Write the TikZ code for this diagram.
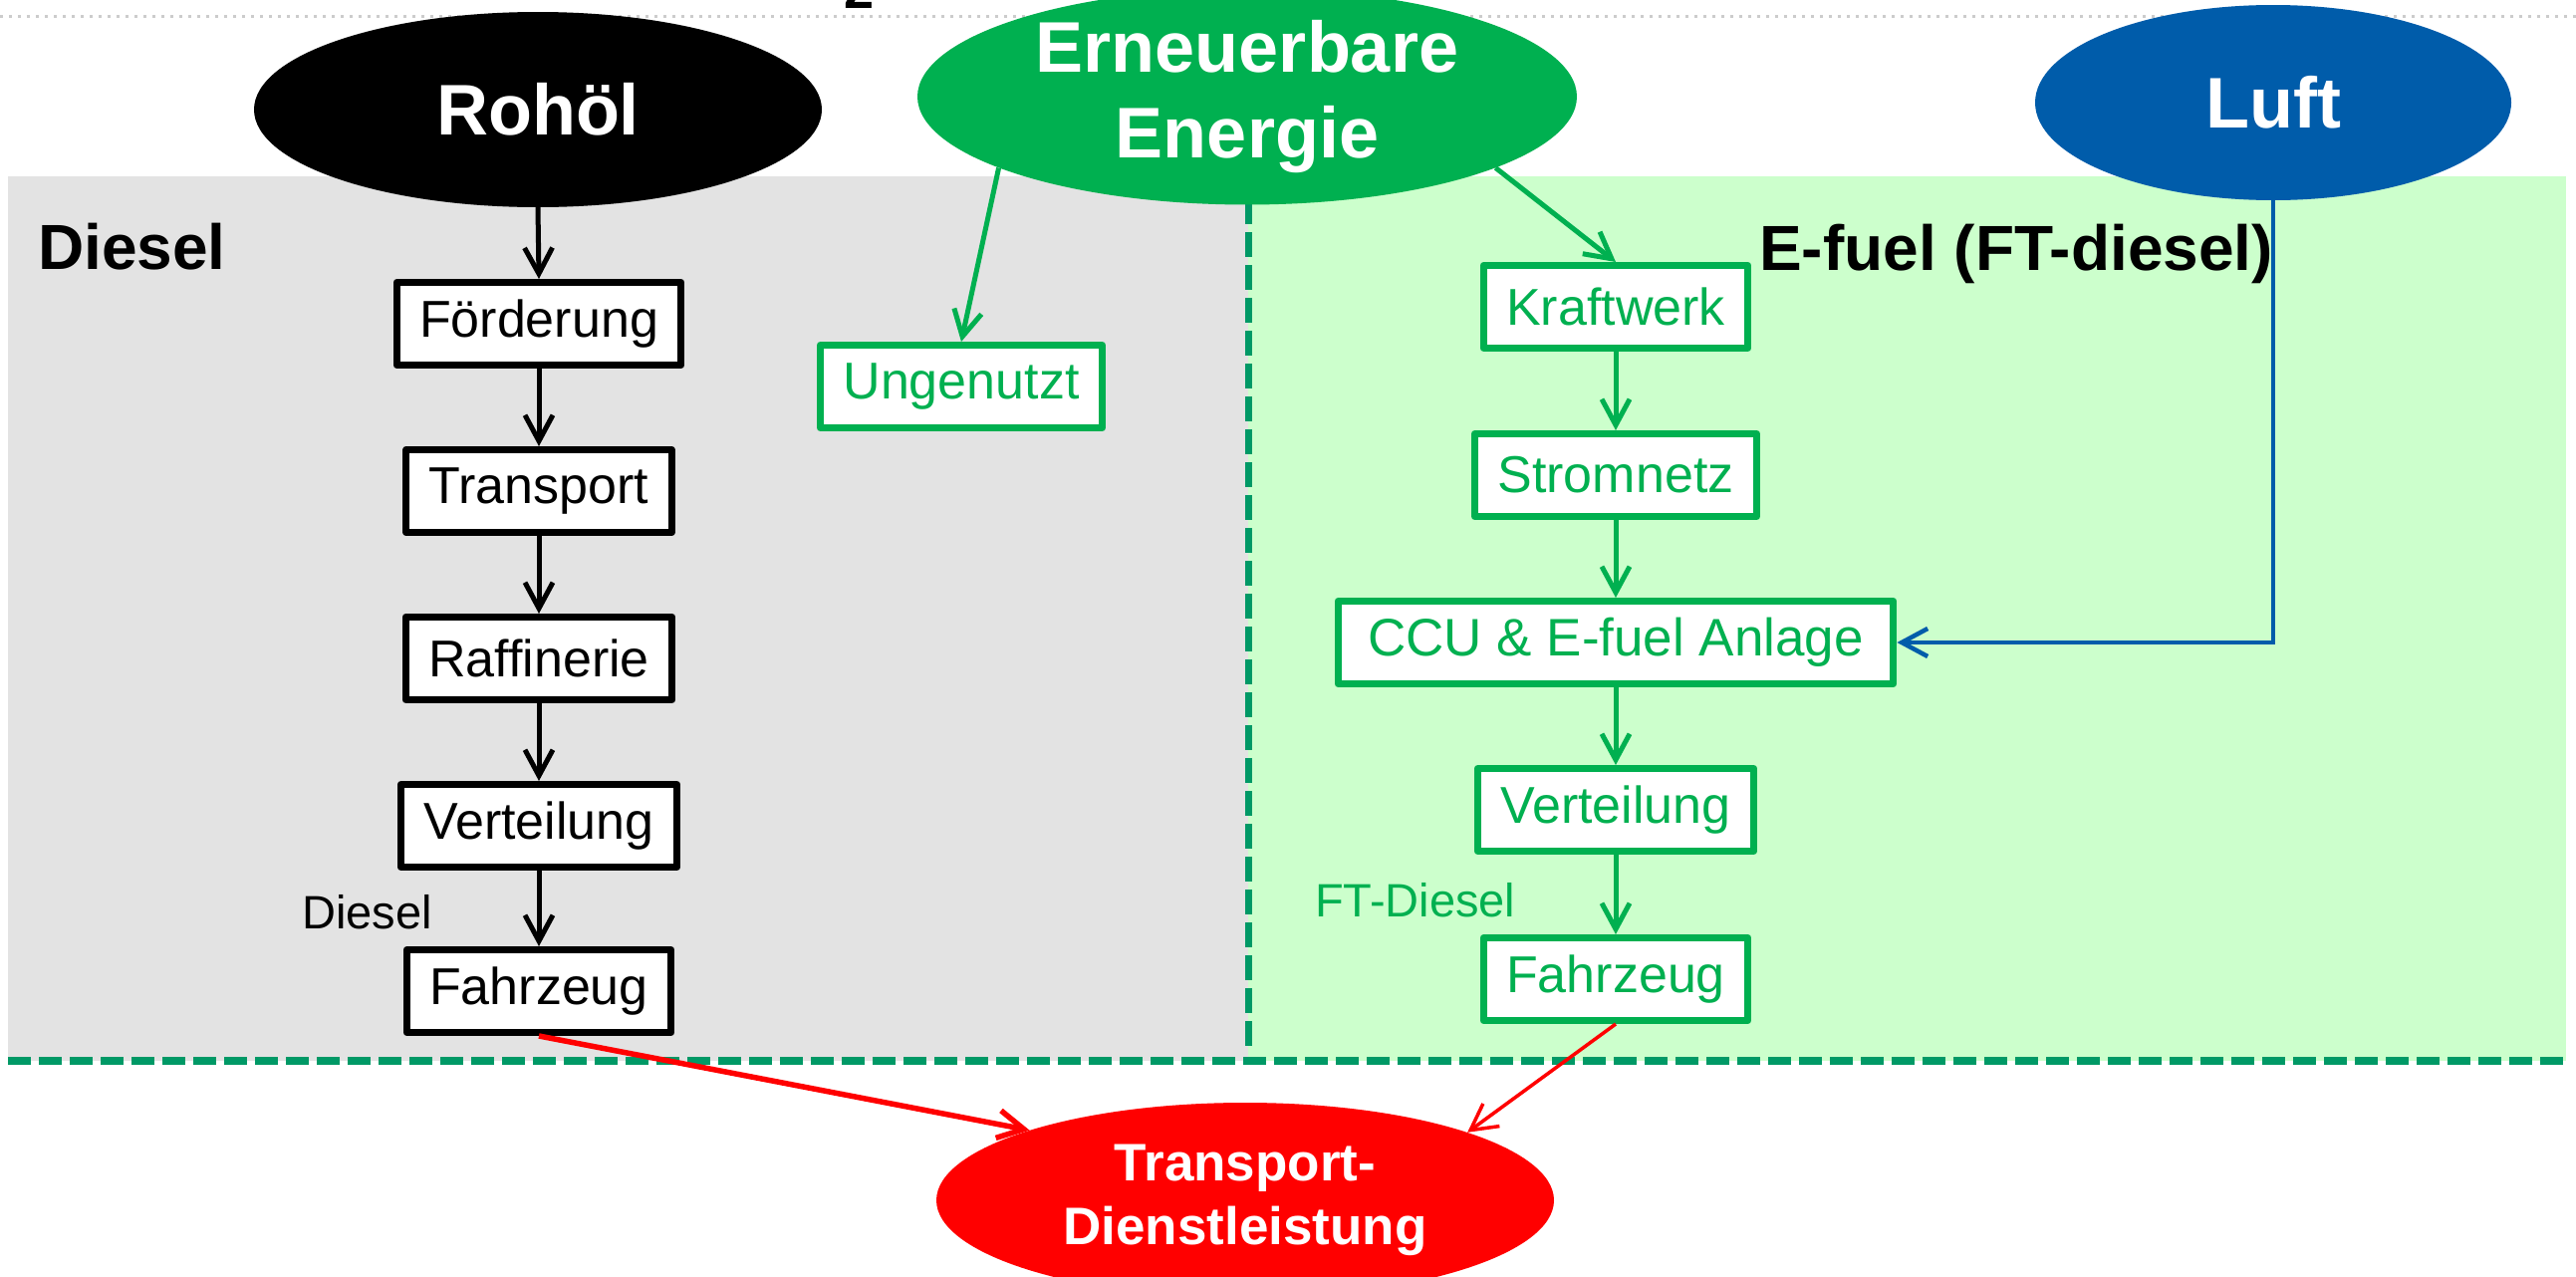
\documentclass[tikz,border=0pt]{standalone}
\usepackage{fontspec}
\setmainfont{Liberation Sans}
\usetikzlibrary{shapes.geometric,arrows.meta}
\definecolor{eg}{RGB}{0,176,80}
\definecolor{tealline}{RGB}{0,153,102}
\definecolor{lblue}{RGB}{0,92,170}
\definecolor{bandgray}{RGB}{227,227,227}
\definecolor{bandgreen}{RGB}{204,255,204}
\tikzset{
  ell/.style={ellipse, inner sep=0pt, text=white, align=center,
    font=\bfseries\fontsize{72}{86}\selectfont},
  bbox/.style={draw=black, line width=7pt, line join=round, fill=white,
    inner xsep=23pt, minimum height=83pt, text=black,
    font=\fontsize{52}{60}\selectfont},
  gbox/.style={bbox, draw=eg, text=eg},
  tip/.style={-{Straight Barb[length=26pt,width=28pt]}},
  barr/.style={tip, line width=5pt, black},
  garr/.style={tip, line width=5pt, eg},
  rarr/.style={tip, red},
  larr/.style={tip, line width=4.5pt, lblue},
  sect/.style={anchor=base west, inner sep=0pt, font=\bfseries\fontsize{64}{76}\selectfont},
  flow/.style={anchor=base west, inner sep=0pt, font=\fontsize{47}{56}\selectfont}
}
\begin{document}
\begin{tikzpicture}[x=1pt,y=-1pt]
\useasboundingbox (0,0) rectangle (2586,1282);
% background bands
\fill[bandgray] (8,177) rectangle (1253,1065);
\fill[bandgreen] (1253,177) rectangle (2576,1065);
\draw[tealline, line width=7pt, dash pattern=on 25pt off 8pt] (1253,200) -- (1253,1055);
\draw[tealline, line width=8pt, dash pattern=on 23pt off 8pt] (8,1065) -- (2576,1065);
\draw[gray!40, line width=3pt, dash pattern=on 2.5pt off 6.5pt] (0,16) -- (2586,16);
% cut-off glyph at the top edge
\node[anchor=base, inner sep=0pt, font=\bfseries\fontsize{54}{60}\selectfont] (topfrag) at (863,9) {2};

% section labels
\node[sect] (ldiesel) at (38,270) {Diesel};
\node[sect] (lefuel) at (1766,271) {E-fuel (FT-diesel)};

% ellipses
\node[ell, fill=black, minimum width=570pt, minimum height=196pt] (rohoel) at (540,110) {Rohöl};
\node[ell, fill=eg, minimum width=662pt, minimum height=192pt] (ee) at (1252,97) {Erneuerbare\\Energie};
\node[ell, fill=lblue, minimum width=478pt, minimum height=196pt] (luft) at (2282,103) {Luft};
\node[ell, fill=red, minimum width=620pt, minimum height=196pt,
      font=\bfseries\fontsize{53}{64}\selectfont] (td) at (1250,1205) {Transport-\\Dienstleistung};

% diesel chain
\node[bbox] (foerd) at (541,325) {Förderung};
\node[bbox] (trans) at (541,493) {Transport};
\node[bbox] (raff) at (541,661) {Raffinerie};
\node[bbox] (vert) at (541,829) {Verteilung};
\node[bbox] (fz) at (541,995) {Fahrzeug};

% e-fuel chain
\node[gbox] (ung) at (965,388) {Ungenutzt};
\node[gbox] (kw) at (1622,308) {Kraftwerk};
\node[gbox] (sn) at (1622,477) {Stromnetz};
\node[gbox, inner xsep=30pt, font=\fontsize{53}{60}\selectfont] (ccu) at (1622,645) {CCU \& E-fuel Anlage};
\node[gbox] (vt2) at (1622,813) {Verteilung};
\node[gbox] (fz2) at (1622,983) {Fahrzeug};

% flow labels
\node[flow] (fdiesel) at (303,932) {Diesel};
\node[flow, text=eg] (fft) at (1320,920) {FT-Diesel};

% connectors
\draw[barr] (rohoel.south) -- (foerd.north);
\draw[barr] (foerd.south) -- (trans.north);
\draw[barr] (trans.south) -- (raff.north);
\draw[barr] (raff.south) -- (vert.north);
\draw[barr] (vert.south) -- (fz.north);

\draw[garr] (ee.196) -- (ung.north);
\draw[garr] (ee.-16) -- (kw.north);
\draw[garr] (kw.south) -- (sn.north);
\draw[garr] (sn.south) -- (ccu.north);
\draw[garr] (ccu.south) -- (vt2.north);
\draw[garr] (vt2.south) -- (fz2.north);

\draw[larr] (luft.south) |- (ccu.east);

\draw[rarr, line width=5.5pt] (fz.south) -- (td.162);
\draw[rarr, line width=3.5pt] (fz2.south) -- (td.17);
\end{tikzpicture}
\end{document}
